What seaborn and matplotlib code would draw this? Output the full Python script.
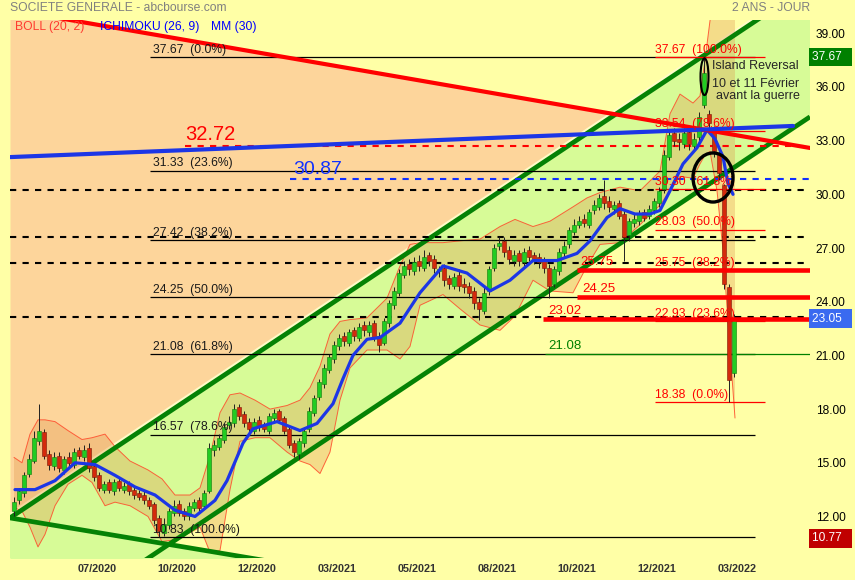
import numpy as np
import pandas as pd
import seaborn as sns
import matplotlib
matplotlib.use("Agg")
import matplotlib.pyplot as plt
import matplotlib.transforms as mtransforms
from matplotlib.patches import Ellipse

# ---------------- data ----------------
opens = [12.3, 12.9, 13.3, 14.4, 15.1, 16.2, 16.7, 15.5, 14.8, 15.4,
         14.6, 15.3, 14.9, 15.7, 15.3, 15.8, 14.8, 14.3, 13.5, 13.9,
         13.4, 14.0, 13.5, 13.8, 13.5, 13.3, 13.2, 12.9, 12.7, 11.9,
         11.1, 11.5, 12.2, 12.7, 12.3, 12.0, 12.5, 12.9, 12.6, 13.4,
         15.7, 15.9, 16.3, 17.1, 17.2, 18.1, 17.7, 17.3, 16.8, 17.4,
         17.1, 16.8, 17.5, 17.9, 17.5, 16.9, 16.1, 15.5, 16.1, 16.9,
         17.8, 18.7, 19.4, 20.2, 20.8, 21.5, 22.1, 21.7, 22.4, 22.0,
         22.7, 22.3, 22.8, 22.1, 21.7, 22.8, 23.8, 24.5, 25.5, 26.1,
         25.7, 26.3, 25.9, 26.6, 26.4, 25.7, 25.9, 25.3, 24.9, 25.5,
         25.0, 24.9, 24.6, 24.0, 23.5, 24.6, 25.9, 27.1, 27.4, 26.9,
         26.3, 26.7, 26.2, 26.9, 26.6, 26.5, 26.3, 25.9, 25.0, 25.7,
         26.7, 27.2, 27.9, 28.3, 28.6, 28.3, 29.1, 29.3, 29.9, 29.6,
         29.2, 29.5, 28.9, 27.7, 28.4, 28.5, 29.0, 28.8, 29.1, 29.5,
         30.3, 32.1, 33.4, 33.1, 32.8, 33.5, 32.7, 33.2, 35.0, 34.5,
         33.6, 32.3, 30.5, 24.8, 20.0]
closes = [12.8, 13.4, 14.3, 15.2, 16.4, 16.8, 15.4, 14.9, 15.3, 14.7,
          15.2, 15.0, 15.6, 15.4, 15.7, 14.7, 14.2, 13.6, 13.8, 13.5,
          13.9, 13.6, 13.7, 13.4, 13.2, 13.1, 12.9, 12.6, 11.8, 11.2,
          11.6, 12.3, 12.6, 12.2, 12.0, 12.6, 12.8, 12.5, 13.3, 15.8,
          16.0, 16.4, 17.0, 17.3, 18.0, 17.6, 17.2, 16.9, 17.3, 17.0,
          16.9, 17.6, 17.8, 17.4, 16.8, 16.0, 15.6, 16.2, 16.8, 17.9,
          18.6, 19.5, 20.3, 20.9, 21.6, 22.0, 21.8, 22.3, 22.1, 22.6,
          22.4, 22.7, 22.0, 21.6, 22.9, 23.9, 24.6, 25.6, 26.0, 25.8,
          26.2, 26.0, 26.5, 26.3, 25.9, 25.8, 25.2, 25.0, 25.4, 24.9,
          24.8, 24.5, 23.9, 23.6, 24.5, 25.8, 27.0, 27.3, 26.8, 26.4,
          26.6, 26.3, 26.8, 26.5, 26.4, 26.2, 25.9, 24.9, 25.8, 26.8,
          27.1, 28.0, 28.3, 28.5, 28.4, 29.0, 29.4, 29.8, 29.5, 29.3,
          29.4, 28.8, 27.6, 28.5, 28.6, 28.9, 28.7, 29.2, 29.6, 30.2,
          32.2, 33.3, 33.0, 32.9, 33.4, 32.8, 33.1, 34.3, 36.8, 34.0,
          32.4, 31.2, 25.0, 19.6, 23.05]
highs = [13.1, 13.6, 14.5, 15.5, 16.8, 18.3, 16.9, 15.7, 15.6, 15.6,
         15.4, 15.6, 15.8, 15.9, 16.0, 16.1, 15.0, 14.5, 14.0, 14.1,
         14.1, 14.2, 13.9, 14.0, 13.7, 13.5, 13.4, 13.1, 12.8, 12.1,
         11.9, 12.5, 12.9, 12.9, 12.5, 12.8, 13.0, 13.1, 13.5, 16.1,
         16.3, 16.6, 17.2, 17.6, 18.3, 18.3, 17.9, 17.5, 17.5, 17.6,
         17.3, 17.8, 18.0, 18.0, 17.6, 17.0, 16.3, 16.4, 17.0, 18.1,
         18.8, 19.7, 20.5, 21.1, 21.8, 22.2, 22.3, 22.5, 22.6, 22.8,
         22.9, 22.9, 23.0, 22.3, 23.1, 24.1, 24.8, 25.8, 26.3, 26.4,
         26.5, 26.6, 26.9, 26.8, 26.6, 26.0, 26.1, 25.5, 25.6, 25.8,
         25.3, 25.1, 24.8, 24.2, 24.8, 26.0, 27.2, 27.6, 27.6, 27.1,
         26.9, 26.9, 27.0, 27.1, 26.8, 26.7, 26.5, 26.1, 26.0, 27.0,
         27.4, 28.2, 28.6, 28.8, 28.9, 29.2, 29.7, 30.0, 30.8, 29.9,
         29.6, 29.7, 29.1, 28.7, 28.9, 29.1, 29.2, 29.4, 29.8, 30.4,
         32.5, 33.6, 33.7, 33.4, 33.7, 33.8, 33.4, 34.6, 37.67, 34.7,
         33.8, 32.5, 30.6, 25.0, 23.3]
lows = [12.0, 12.7, 13.1, 14.2, 15.0, 16.0, 15.2, 14.6, 14.6, 14.5,
        14.4, 14.8, 14.7, 15.2, 15.1, 14.5, 14.0, 13.4, 13.3, 13.3,
        13.2, 13.4, 13.3, 13.2, 13.0, 12.9, 12.7, 12.4, 11.6, 10.83,
        10.9, 11.3, 12.0, 12.0, 11.8, 11.8, 12.3, 12.3, 12.4, 13.3,
        15.4, 15.7, 16.1, 16.9, 17.0, 17.4, 17.0, 16.6, 16.6, 16.8,
        16.7, 16.6, 17.3, 17.2, 16.6, 15.8, 15.3, 15.2, 15.9, 16.7,
        17.6, 18.5, 19.2, 20.0, 20.6, 21.3, 21.5, 21.5, 21.8, 21.8,
        22.1, 22.1, 21.8, 21.2, 21.6, 22.6, 23.6, 24.3, 25.3, 25.5,
        25.5, 25.7, 25.7, 26.0, 25.6, 25.4, 24.9, 24.7, 24.7, 24.6,
        24.5, 24.2, 23.6, 23.0, 23.3, 24.4, 25.7, 26.9, 26.5, 26.1,
        26.0, 26.0, 26.0, 26.3, 26.1, 25.9, 25.6, 24.2, 24.8, 25.5,
        26.5, 27.0, 27.7, 28.1, 28.2, 28.1, 28.9, 29.1, 29.2, 29.0,
        28.9, 28.6, 26.3, 27.4, 28.2, 28.3, 28.5, 28.6, 28.9, 29.3,
        30.1, 31.9, 32.7, 32.5, 32.6, 32.5, 32.4, 33.0, 34.8, 33.5,
        32.1, 30.8, 24.7, 18.38, 19.8]

# MM(30) moving average (session index, value)
ma_t = [0.2, 4.2, 8.2, 12.2, 16.2, 20.2, 24.2, 28.2, 32.2, 36.2,
        40.2, 42.6, 45.8, 47.8, 52.6, 57.2, 60.6, 63.8, 65.8, 67.8,
        70.6, 73.2, 77.2, 81.2, 85.8, 90.6, 95.2, 99.2, 103.8, 108.6,
        112.6, 115.2, 118.6, 121.2, 124.2, 127.2, 129.2, 131.2, 133.8, 136.6,
        138.6, 140.2, 141.8, 142.8, 143.8]
ma_v = [13.5, 13.5, 14.0, 15.0, 14.9, 14.3, 13.65, 13.2, 12.35, 12.0,
        12.9, 14.0, 16.1, 16.9, 17.3, 16.8, 17.2, 18.3, 19.7, 21.0,
        21.9, 22.0, 22.8, 24.5, 26.0, 25.6, 24.6, 25.2, 26.3, 26.3,
        26.7, 27.4, 28.7, 29.2, 28.9, 28.9, 29.1, 30.2, 31.7, 32.6,
        33.6, 33.1, 32.1, 30.6, 30.0]

# Bollinger (20, 2) bands
bb_t = [0.0, 1.6, 3.2, 4.8, 6.2, 8.2, 10.8, 13.6, 15.6, 18.2,
        20.2, 23.2, 26.8, 29.6, 32.2, 35.2, 37.2, 39.2, 41.2, 43.2,
        45.2, 48.2, 51.2, 54.6, 57.2, 59.2, 61.2, 63.2, 65.2, 67.2,
        70.6, 74.6, 77.2, 79.2, 81.2, 85.8, 89.2, 93.2, 97.2, 100.2,
        103.8, 107.2, 111.8, 114.6, 117.2, 121.2, 125.2, 129.2, 131.2, 133.2,
        135.8, 137.2, 138.2, 139.2, 140.6, 141.8, 143.2, 144.2]
bb_up = [15.3, 15.0, 16.6, 17.4, 17.4, 17.3, 16.8, 16.3, 16.4, 16.6,
         15.9, 15.1, 14.6, 14.1, 13.2, 13.2, 13.6, 15.4, 17.8, 18.8,
         18.9, 18.5, 18.0, 18.2, 18.5, 19.2, 20.4, 22.2, 22.9, 23.0,
         23.1, 24.2, 26.0, 27.2, 27.3, 27.3, 27.4, 27.5, 28.2, 28.6,
         28.2, 28.5, 29.3, 29.8, 30.1, 30.4, 30.2, 31.3, 34.5, 35.6,
         35.1, 35.5, 37.5, 39.7, 42.5, 44.0, 45.0, 45.5]
bb_lo = [12.5, 12.3, 11.4, 10.3, 11.0, 12.6, 13.8, 14.3, 13.9, 12.6,
         12.8, 12.6, 12.0, 10.6, 10.7, 11.1, 11.4, 10.0, 10.1, 13.5,
         16.2, 16.4, 16.4, 15.6, 15.1, 14.9, 14.4, 15.6, 18.5, 20.3,
         21.3, 21.3, 20.8, 21.5, 23.8, 24.4, 23.6, 22.7, 22.4, 23.2,
         25.2, 24.6, 24.5, 26.0, 27.2, 27.3, 28.3, 29.4, 30.2, 31.0,
         30.9, 31.7, 32.2, 32.4, 30.2, 26.9, 21.3, 17.5]

date_labels = ["07/2020", "10/2020", "12/2020", "03/2021", "05/2021",
               "08/2021", "10/2021", "12/2021", "03/2022"]
y_ticks = [12, 15, 18, 21, 24, 27, 30, 33, 36, 39]

# Fibonacci retracements
fib1_levels = [37.67, 31.33, 27.42, 24.25, 21.08, 16.57, 10.83]
fib1_pcts = ["0.0%", "23.6%", "38.2%", "50.0%", "61.8%", "78.6%", "100.0%"]
fib2_levels = [37.67, 33.54, 30.30, 28.03, 25.75, 22.93, 18.38]
fib2_pcts = ["100.0%", "78.6%", "61.8%", "50.0%", "38.2%", "23.6%", "0.0%"]

support_levels = [25.75, 24.25, 23.02]
dashed_levels = [30.25, 27.62, 26.18, 23.15]
red_dash_level = 32.72
blue_dot_level = 30.87
green_level = 21.08
last_price = 23.05
period_high = 37.67
period_low = 10.77

# trend lines: (session index pair, value pair)
red_trend = ([-0.8, 159.2], [40.32, 32.59])
blue_trend = ([-0.8, 155.8], [32.08, 33.82])
green_up = ([-0.8, 149.2], [11.92, 39.85])
green_lo = ([27.2, 159.2], [9.74, 34.33])
green_desc = ([-0.8, 47.2], [11.92, 9.68])

# ---------------- style ----------------
sns.set_theme(style="white")
plt.rcParams['font.family'] = ['Liberation Sans', 'DejaVu Sans']

BG = '#FFFFA6'
GREEN_FILL = '#D7FB97'
ORANGE_FILL = '#FDD59B'
LINE_GREEN = '#058205'
BLUE = '#1C36E6'
RED = '#FF0000'

W, H = 855, 580
fig = plt.figure(figsize=(W / 100, H / 100), dpi=100, facecolor=BG)
ax = fig.add_axes([10 / W, 22 / H, 800 / W, 538 / H])
ax.set_facecolor(BG)
XMIN, XMAX = -0.8, 159.2
YMIN, YMAX = 9.68, 39.74
ax.set_xlim(XMIN, XMAX)
ax.set_ylim(YMIN, YMAX)


def line_at(tr, x):
    (t0, t1), (v0, v1) = tr
    return v0 + (v1 - v0) / (t1 - t0) * (np.asarray(x) - t0)


xs = np.linspace(XMIN, XMAX, 600)
up = line_at(green_up, xs)
lo = line_at(green_lo, xs)
rd = line_at(red_trend, xs)
ds = line_at(green_desc, xs)

# background zones
ax.fill_between(xs, lo, up, color=GREEN_FILL, lw=0, zorder=0.2)
ax.fill_between(xs, YMIN - 1, ds, where=ds > YMIN - 1, color=GREEN_FILL, lw=0, zorder=0.2)
ax.fill_between(xs, up, rd, where=rd > up, color=ORANGE_FILL, lw=0, zorder=0.2)
# pale rim along the upper channel line (orange side)
ax.plot(xs, up + 0.2, color='#FFFBC8', lw=2.0, zorder=0.3)

# Bollinger bands
ax.fill_between(bb_t, bb_lo, bb_up, color='#E0964E', alpha=0.33, lw=0, zorder=1)
sns.lineplot(x=bb_t, y=bb_up, color='#FF4A2A', lw=0.7, alpha=0.85, ax=ax, zorder=1.1, sort=False)
sns.lineplot(x=bb_t, y=bb_lo, color='#FF4A2A', lw=0.7, alpha=0.85, ax=ax, zorder=1.1, sort=False)

# channel lines
for tr in (green_up, green_lo, green_desc):
    ax.plot([XMIN, XMAX], line_at(tr, [XMIN, XMAX]), color=LINE_GREEN, lw=3.4,
            solid_capstyle='butt', zorder=2)

# horizontal dashed levels
for lv in dashed_levels:
    ax.hlines(lv, XMIN, XMAX, colors='black', lw=1.5, linestyles=(0, (3, 3)), zorder=2.2)
ax.hlines(red_dash_level, 34.2, XMAX, colors=RED, lw=1.5, linestyles=(0, (3, 3)), zorder=2.2)
ax.hlines(blue_dot_level, 55.2, XMAX, colors='#1030FF', lw=1.5, linestyles=(0, (3, 3)), zorder=2.2)

# Fibonacci 1 (black)
for lv, p in zip(fib1_levels, fib1_pcts):
    ax.hlines(lv, 27.2, 148.2, colors='black', lw=0.9, zorder=2.3)
    ax.text(27.8, lv + 0.07, f"{lv:.2f}  ({p})", color='#1a1a1a', fontsize=8.7,
            va='bottom', ha='left', zorder=5)
ax.hlines(green_level, 106.2, XMAX, colors='#008000', lw=0.9, zorder=2.4)
ax.text(106.8, green_level + 0.12, f"{green_level:.2f}", color='#008000', fontsize=9.5,
        va='bottom', ha='left', zorder=5)

# Fibonacci 2 (red)
for lv, p in zip(fib2_levels, fib2_pcts):
    ax.hlines(lv, 128.2, 150.2, colors=RED, lw=0.9, zorder=2.4)
    ax.text(128.2, lv + 0.07, f"{lv:.2f}  ({p})", color=RED, fontsize=8.7,
            va='bottom', ha='left', zorder=5)

# candles
t = np.arange(len(closes))
o = np.array(opens); c = np.array(closes); h = np.array(highs); l = np.array(lows)
upc = c >= o
ax.vlines(t, l, h, colors='#202020', lw=0.7, zorder=3)
body_b = np.minimum(o, c)
body_h = np.maximum(np.abs(c - o), 0.06)
ax.bar(t[upc], body_h[upc], bottom=body_b[upc], width=0.72, color='#22CC22',
       edgecolor='#0C7A0C', lw=0.4, zorder=3.1)
ax.bar(t[~upc], body_h[~upc], bottom=body_b[~upc], width=0.72, color='#D42A0C',
       edgecolor='#7A1606', lw=0.4, zorder=3.1)

# MM(30)
sns.lineplot(x=ma_t, y=ma_v, color=BLUE, lw=2.3, ax=ax, zorder=4, sort=False)

# trend lines red / blue
ax.plot([XMIN, XMAX], line_at(red_trend, [XMIN, XMAX]), color=RED, lw=3.0, zorder=4.5)
ax.plot(blue_trend[0], blue_trend[1], color=BLUE, lw=3.0, zorder=4.5)

# thick red supports
sup_start = [112.6, 112.6, 105.8]
for lv, s in zip(support_levels, sup_start):
    ax.hlines(lv, s, XMAX, colors=RED, lw=3.3, zorder=4.6)
ax.text(113.2, 25.75 + 0.12, "25.75", color=RED, fontsize=9.5, va='bottom', zorder=5)
ax.text(113.6, 24.25 + 0.12, "24.25", color=RED, fontsize=9.5, va='bottom', zorder=5)
ax.text(106.8, 23.02 + 0.12, "23.02", color=RED, fontsize=9.5, va='bottom', zorder=5)

ax.text(34.2, red_dash_level + 0.1, f"{red_dash_level:.2f}", color=RED, fontsize=14.5,
        va='bottom', zorder=5)
ax.text(55.8, blue_dot_level + 0.05, f"{blue_dot_level:.2f}", color='#1030FF', fontsize=14,
        va='bottom', zorder=5)

# annotations
ax.add_patch(Ellipse((138.1, 36.57), 1.6, 2.05, fill=False, ec='black', lw=1.5, zorder=6))
ax.add_patch(Ellipse((139.8, 30.94), 8.0, 2.74, fill=False, ec='black', lw=2.4, zorder=6))
ax.text(139.6, 37.17, "Island Reversal", fontsize=9, va='center', ha='left', zorder=6)
ax.text(139.6, 36.15, "10 et 11 Février", fontsize=9, va='center', ha='left', zorder=6)
ax.text(140.4, 35.48, "avant la guerre", fontsize=9, va='center', ha='left', zorder=6)

# axes
for s in ax.spines.values():
    s.set_visible(False)
ax.grid(False)
ax.yaxis.tick_right()
ax.set_yticks(y_ticks)
ax.set_yticklabels([f"{v:.2f}" for v in y_ticks])
ax.tick_params(axis='y', length=0, pad=4, labelsize=8.6, labelcolor='black')
ax.set_xticks([16.6 + 16 * k for k in range(len(date_labels))])
ax.set_xticklabels(date_labels, fontweight='bold')
ax.tick_params(axis='x', length=0, pad=4, labelsize=7.8, labelcolor='#333333')
ax.set_xlabel(''); ax.set_ylabel('')

tr_b = mtransforms.blended_transform_factory(ax.transAxes, ax.transData)
for val, col in ((period_high, '#008000'), (last_price, '#3A6AF0'), (period_low, '#C00000')):
    ax.text(1.003, val, f"{val:.2f}  ", transform=tr_b, color='white', fontsize=8.6,
            va='center', ha='left', clip_on=False, zorder=7,
            bbox=dict(boxstyle='square,pad=0.28', fc=col, ec='none'))

# header texts
fig.text(10 / W, 1 - 8 / H, "SOCIETE GENERALE - abcbourse.com", color='#808080',
         fontsize=8.7, va='center', ha='left')
fig.text(810 / W, 1 - 8 / H, "2 ANS - JOUR", color='#808080', fontsize=8.7,
         va='center', ha='right')
fig.text(15 / W, 1 - 27 / H, "BOLL (20, 2)", color='#FF3B30', fontsize=8.7, va='center')
fig.text(100 / W, 1 - 27 / H, "ICHIMOKU (26, 9)", color='#0000FF', fontsize=8.7, va='center')
fig.text(211 / W, 1 - 27 / H, "MM (30)", color='#0000FF', fontsize=8.7, va='center')

fig.savefig("out.png", dpi=100, facecolor=BG)
